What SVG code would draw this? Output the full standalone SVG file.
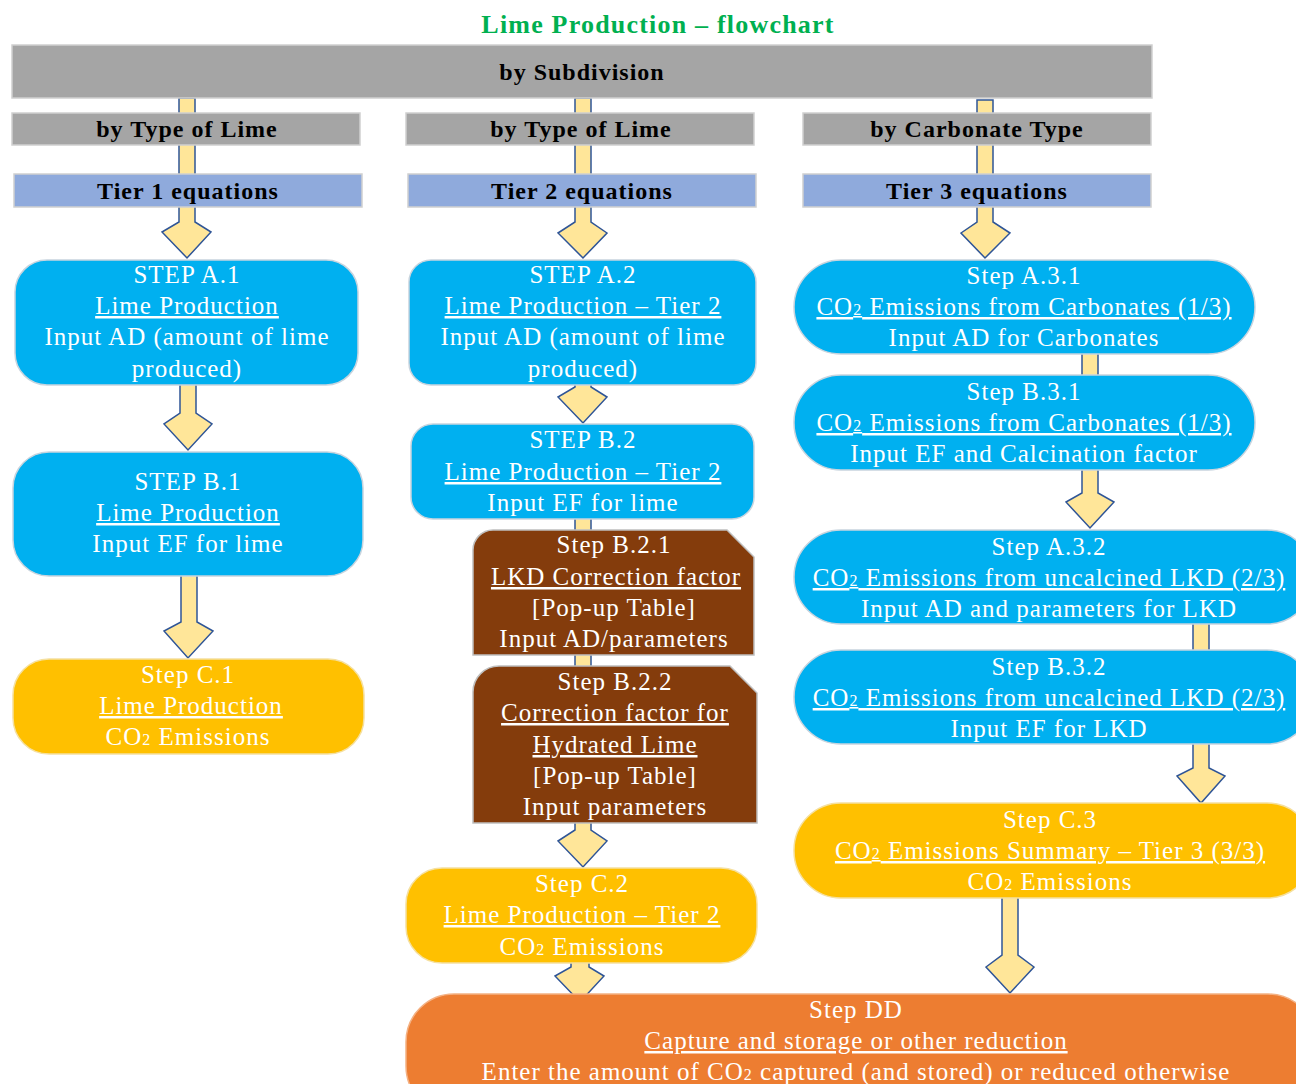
<svg xmlns="http://www.w3.org/2000/svg" width="1296" height="1084" viewBox="0 0 1296 1084">
  <style>
    .title { font-family: "Liberation Serif", serif; font-weight: bold; font-size: 26px; fill: #00B050; letter-spacing: 1.2px; text-anchor: middle; }
    .band { fill: #A5A5A5; stroke: #D0D0D0; stroke-width: 1.5; }
    .tier { fill: #8FAADC; stroke: #D0D0D0; stroke-width: 1.5; }
    .bandtxt { font-family: "Liberation Serif", serif; font-weight: bold; font-size: 24px; fill: #000; letter-spacing: 1px; text-anchor: middle; }
    .blue { fill: #00B0F0; stroke: #C8D4DE; stroke-width: 1.5; }
    .gold { fill: #FFC000; stroke: #F5E0A0; stroke-width: 1.5; }
    .brown { fill: #843C0C; stroke: #BFBFBF; stroke-width: 1.5; }
    .orange { fill: #ED7D31; stroke: #F4B183; stroke-width: 1.5; }
    .t { font-family: "Liberation Serif", serif; font-size: 25px; fill: #FFFFFF; letter-spacing: 1px; text-anchor: middle; }
    .u { text-decoration: underline; }
    .sub { font-size: 16px; }
    .arrow { fill: #FFE699; stroke: #2F5597; stroke-width: 1.5; stroke-linejoin: miter; }
  </style>

  <text class="title" x="658" y="33">Lime Production – flowchart</text>

  <!-- block arrows, drawn beneath the boxes -->
  <g id="connectors">
    <polygon class="arrow" points="179,98 195,98 195,222 211,232 187,258 162,232 179,222"/>
    <polygon class="arrow" points="180,380 196,380 196,413 212,424 188,450 164,424 180,413"/>
    <polygon class="arrow" points="181,572 197,572 197,622 213,631 188,658 164,631 181,622"/>

    <polygon class="arrow" points="575,98 591,98 591,222 607,233 583,258 558,233 575,222"/>
    <polygon class="arrow" points="575,380 591,380 591,387 607,397 583,423 558,397 575,387"/>
    <rect class="arrow" x="575" y="514" width="16" height="22"/>
    <rect class="arrow" x="575" y="650" width="16" height="22"/>
    <polygon class="arrow" points="575,818 591,818 591,830 607,841 583,867 558,841 575,830"/>
    <polygon class="arrow" points="571,958 589,958 589,967 604,976 580,1002 555,976 571,967"/>

    <polygon class="arrow" points="977,100 993,100 993,222 1010,233 985,258 961,233 977,222"/>
    <rect class="arrow" x="1082" y="350" width="16" height="30"/>
    <polygon class="arrow" points="1082,466 1098,466 1098,493 1114,502 1090,528 1066,502 1082,493"/>
    <rect class="arrow" x="1193" y="620" width="16" height="35"/>
    <polygon class="arrow" points="1193,740 1209,740 1209,768 1225,776 1201,803 1177,776 1193,768"/>
    <polygon class="arrow" points="1002,894 1018,894 1018,955 1034,967 1010,993 986,967 1002,955"/>
  </g>

  <!-- header bands -->
  <g id="by-subdivision">
    <rect class="band" x="12" y="45" width="1140" height="53"/>
    <text class="bandtxt" x="582" y="80">by Subdivision</text>
  </g>
  <g id="type-of-lime-1">
    <rect class="band" x="12" y="113" width="348" height="32"/>
    <text class="bandtxt" x="187" y="137">by Type of Lime</text>
  </g>
  <g id="type-of-lime-2">
    <rect class="band" x="406" y="113" width="348" height="32"/>
    <text class="bandtxt" x="581" y="137">by Type of Lime</text>
  </g>
  <g id="carbonate-type">
    <rect class="band" x="803" y="113" width="348" height="32"/>
    <text class="bandtxt" x="977" y="137">by Carbonate Type</text>
  </g>
  <g id="tier1">
    <rect class="tier" x="14" y="174" width="348" height="33"/>
    <text class="bandtxt" x="188" y="199">Tier 1 equations</text>
  </g>
  <g id="tier2">
    <rect class="tier" x="408" y="174" width="348" height="33"/>
    <text class="bandtxt" x="582" y="199">Tier 2 equations</text>
  </g>
  <g id="tier3">
    <rect class="tier" x="803" y="174" width="348" height="33"/>
    <text class="bandtxt" x="977" y="199">Tier 3 equations</text>
  </g>

  <!-- Tier 1 column -->
  <g id="step-a1">
    <rect class="blue" x="15" y="260" width="343" height="125" rx="32"/>
    <text class="t" x="187" y="283">STEP A.1</text>
    <text class="t u" x="187" y="314">Lime Production</text>
    <text class="t" x="187" y="345">Input AD (amount of lime</text>
    <text class="t" x="187" y="377">produced)</text>
  </g>
  <g id="step-b1">
    <rect class="blue" x="13" y="452" width="350" height="124" rx="36"/>
    <text class="t" x="188" y="490">STEP B.1</text>
    <text class="t u" x="188" y="521">Lime Production</text>
    <text class="t" x="188" y="552">Input EF for lime</text>
  </g>
  <g id="step-c1">
    <rect class="gold" x="13" y="659" width="351" height="95" rx="36"/>
    <text class="t" x="188" y="683">Step C.1</text>
    <text class="t u" x="191" y="714">Lime Production</text>
    <text class="t" x="188" y="745">CO<tspan class="sub">2</tspan> Emissions</text>
  </g>

  <!-- Tier 2 column -->
  <g id="step-a2">
    <rect class="blue" x="409" y="260" width="347" height="125" rx="22"/>
    <text class="t" x="583" y="283">STEP A.2</text>
    <text class="t u" x="583" y="314">Lime Production – Tier 2</text>
    <text class="t" x="583" y="345">Input AD (amount of lime</text>
    <text class="t" x="583" y="377">produced)</text>
  </g>
  <g id="step-b2">
    <rect class="blue" x="411" y="424" width="343" height="95" rx="22"/>
    <text class="t" x="583" y="448">STEP B.2</text>
    <text class="t u" x="583" y="480">Lime Production – Tier 2</text>
    <text class="t" x="583" y="511">Input EF for lime</text>
  </g>
  <g id="step-b21">
    <path class="brown" d="M473,655 L473,550 A20,20 0 0 1 493,530 L727,530 L754,557 L754,655 Z"/>
    <text class="t" x="614" y="553">Step B.2.1</text>
    <text class="t u" x="616" y="585">LKD Correction factor</text>
    <text class="t" x="614" y="616">[Pop-up Table]</text>
    <text class="t" x="614" y="647">Input AD/parameters</text>
  </g>
  <g id="step-b22">
    <path class="brown" d="M473,823 L473,692 A26,26 0 0 1 499,666 L730,666 L757,693 L757,823 Z"/>
    <text class="t" x="615" y="690">Step B.2.2</text>
    <text class="t u" x="615" y="721">Correction factor for</text>
    <text class="t u" x="615" y="753">Hydrated Lime</text>
    <text class="t" x="615" y="784">[Pop-up Table]</text>
    <text class="t" x="615" y="815">Input parameters</text>
  </g>
  <g id="step-c2">
    <rect class="gold" x="406" y="868" width="351" height="95" rx="36"/>
    <text class="t" x="582" y="892">Step C.2</text>
    <text class="t u" x="582" y="923">Lime Production – Tier 2</text>
    <text class="t" x="582" y="955">CO<tspan class="sub">2</tspan> Emissions</text>
  </g>

  <!-- Tier 3 column -->
  <g id="step-a31">
    <rect class="blue" x="794" y="260" width="461" height="94" rx="47"/>
    <text class="t" x="1024" y="284">Step A.3.1</text>
    <text class="t u" x="1024" y="315">CO<tspan class="sub">2</tspan> Emissions from Carbonates (1/3)</text>
    <text class="t" x="1024" y="346">Input AD for Carbonates</text>
  </g>
  <g id="step-b31">
    <rect class="blue" x="794" y="375" width="461" height="95" rx="47"/>
    <text class="t" x="1024" y="400">Step B.3.1</text>
    <text class="t u" x="1024" y="431">CO<tspan class="sub">2</tspan> Emissions from Carbonates (1/3)</text>
    <text class="t" x="1024" y="462">Input EF and Calcination factor</text>
  </g>
  <g id="step-a32">
    <rect class="blue" x="794" y="530" width="520" height="94" rx="47"/>
    <text class="t" x="1049" y="555">Step A.3.2</text>
    <text class="t u" x="1049" y="586">CO<tspan class="sub">2</tspan> Emissions from uncalcined LKD (2/3)</text>
    <text class="t" x="1049" y="617">Input AD and parameters for LKD</text>
  </g>
  <g id="step-b32">
    <rect class="blue" x="794" y="650" width="520" height="94" rx="47"/>
    <text class="t" x="1049" y="675">Step B.3.2</text>
    <text class="t u" x="1049" y="706">CO<tspan class="sub">2</tspan> Emissions from uncalcined LKD (2/3)</text>
    <text class="t" x="1049" y="737">Input EF for LKD</text>
  </g>
  <g id="step-c3">
    <rect class="gold" x="794" y="803" width="520" height="95" rx="47"/>
    <text class="t" x="1050" y="828">Step C.3</text>
    <text class="t u" x="1050" y="859">CO<tspan class="sub">2</tspan> Emissions Summary – Tier 3 (3/3)</text>
    <text class="t" x="1050" y="890">CO<tspan class="sub">2</tspan> Emissions</text>
  </g>

  <!-- capture and storage -->
  <g id="step-dd">
    <rect class="orange" x="406" y="994" width="910" height="120" rx="48"/>
    <text class="t" x="856" y="1018">Step DD</text>
    <text class="t u" x="856" y="1049">Capture and storage or other reduction</text>
    <text class="t" x="856" y="1080">Enter the amount of CO<tspan class="sub">2</tspan> captured (and stored) or reduced otherwise</text>
  </g>
</svg>
